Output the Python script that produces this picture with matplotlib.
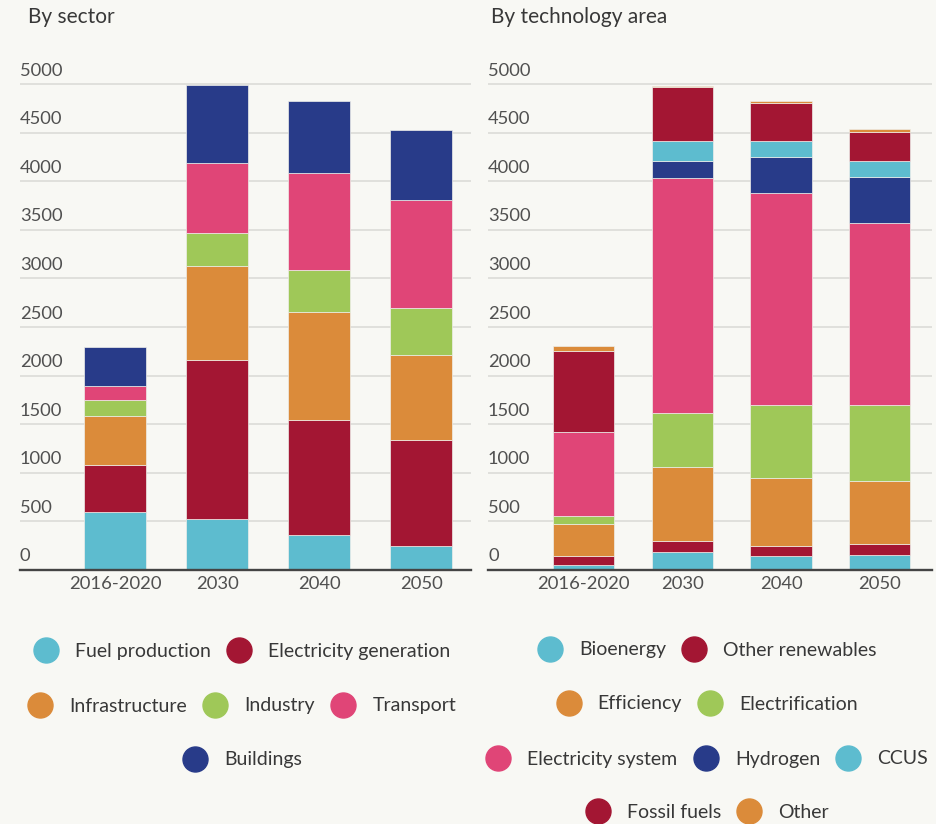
import matplotlib
matplotlib.use("Agg")
import matplotlib.pyplot as plt
from matplotlib.lines import Line2D
from matplotlib.transforms import offset_copy
import numpy as np

plt.rcParams['font.family'] = ['Lato', 'DejaVu Sans']

# ---------------- data ----------------
periods = ['2016-2020', '2030', '2040', '2050']

sector_names = ['Fuel production', 'Electricity generation', 'Infrastructure',
                'Industry', 'Transport', 'Buildings']
fuel_production = [593, 526, 355, 241]
electricity_generation = [490, 1633, 1190, 1094]
infrastructure = [504, 969, 1108, 874]
industry = [164, 338, 433, 483]
transport = [142, 728, 998, 1118]
buildings = [397, 795, 745, 718]

tech_names = ['Bioenergy', 'Other renewables', 'Efficiency', 'Electrification',
              'Electricity system', 'Hydrogen', 'CCUS', 'Fossil fuels', 'Other']
bioenergy = [50, 185, 139, 156]
other_renewables = [92, 114, 110, 107]
efficiency = [327, 760, 696, 650]
electrification = [85, 558, 754, 786]
electricity_system = [860, 2417, 2178, 1876]
hydrogen = [0, 174, 374, 469]
ccus = [0, 210, 167, 164]
fossil_fuels = [839, 550, 394, 302]
other = [47, 18, 18, 32]

y_ticks = [0, 500, 1000, 1500, 2000, 2500, 3000, 3500, 4000, 4500, 5000]

# ---------------- style ----------------
BG = '#f8f8f4'
LBLUE = '#5dbccf'
DRED = '#a31633'
ORANGE = '#db8b3a'
GREEN = '#9fc858'
PINK = '#e04577'
NAVY = '#283b89'
GRID = '#dcdcd8'
TXT = '#383838'
TICK = '#505050'

sector_series = [fuel_production, electricity_generation, infrastructure,
                 industry, transport, buildings]
sector_colors = [LBLUE, DRED, ORANGE, GREEN, PINK, NAVY]
tech_series = [bioenergy, other_renewables, efficiency, electrification,
               electricity_system, hydrogen, ccus, fossil_fuels, other]
tech_colors = [LBLUE, DRED, ORANGE, GREEN, PINK, NAVY, LBLUE, DRED, ORANGE]

W, H = 936, 824
fig = plt.figure(figsize=(W / 100, H / 100), dpi=100, facecolor=BG)

base_px = 569.7
px_per_unit = 485.4 / 5000
ytop = 5010
ax_h = ytop * px_per_unit

axL = fig.add_axes([20 / W, (H - base_px) / H, 451 / W, ax_h / H])
axR = fig.add_axes([488 / W, (H - base_px) / H, 444 / W, ax_h / H])


def draw(ax, series, colors, width, xlim):
    ax.set_facecolor(BG)
    x = np.arange(len(periods))
    bottom = np.zeros(len(periods))
    for vals, c in zip(series, colors):
        v = np.array(vals, dtype=float)
        ax.bar(x, v, width, bottom=bottom, color=c, edgecolor='#eeeeea',
               linewidth=0.5, zorder=3)
        bottom += v
    ax.set_xlim(*xlim)
    ax.set_ylim(0, ytop)
    ax.set_yticks(y_ticks)
    ax.set_yticklabels([])
    ax.tick_params(axis='y', length=0)
    ax.yaxis.grid(True, color=GRID, linewidth=1.2, zorder=0)
    ax.set_axisbelow(True)
    for s in ['top', 'right', 'left']:
        ax.spines[s].set_visible(False)
    ax.spines['bottom'].set_color('#444444')
    ax.spines['bottom'].set_linewidth(1.7)
    ax.spines['bottom'].set_zorder(5)
    ax.set_xticks(x)
    ax.set_xticklabels(periods, fontsize=13.3, color=TICK)
    ax.tick_params(axis='x', length=0, pad=4.5)
    tr = offset_copy(ax.get_yaxis_transform(), fig=fig, x=0, y=13.5, units='dots')
    for t in y_ticks:
        ax.text(0, t, str(t), transform=tr, ha='left', va='center',
                fontsize=13.2, color=TICK)


draw(axL, sector_series, sector_colors, 0.61, (-0.934, 3.49))
draw(axR, tech_series, tech_colors, 0.62, (-0.968, 3.53))

fig.text(28 / W, 1 - 17 / H, 'By sector', ha='left', va='center',
         fontsize=15, color=TXT)
fig.text(491 / W, 1 - 17 / H, 'By technology area', ha='left', va='center',
         fontsize=15, color=TXT)


def legend_row(names, colors, cx, cy):
    handles = [Line2D([], [], marker='o', linestyle='', markersize=18,
                      markerfacecolor=c, markeredgecolor=c) for c in colors]
    leg = fig.legend(handles, names, loc='center',
                     bbox_to_anchor=(cx / W, 1 - cy / H),
                     ncol=len(names), frameon=False, fontsize=14,
                     handlelength=1.3, handletextpad=0.85, columnspacing=0.8,
                     borderpad=0, borderaxespad=0)
    for t in leg.get_texts():
        t.set_color(TXT)


legend_row(sector_names[0:2], sector_colors[0:2], 242, 651)
legend_row(sector_names[2:5], sector_colors[2:5], 242, 706)
legend_row(sector_names[5:6], sector_colors[5:6], 242, 760)

legend_row(tech_names[0:2], tech_colors[0:2], 707, 650)
legend_row(tech_names[2:4], tech_colors[2:4], 707, 704)
legend_row(tech_names[4:7], tech_colors[4:7], 707, 759)
legend_row(tech_names[7:9], tech_colors[7:9], 707, 812)

fig.savefig('out.png', dpi=100, facecolor=BG)
